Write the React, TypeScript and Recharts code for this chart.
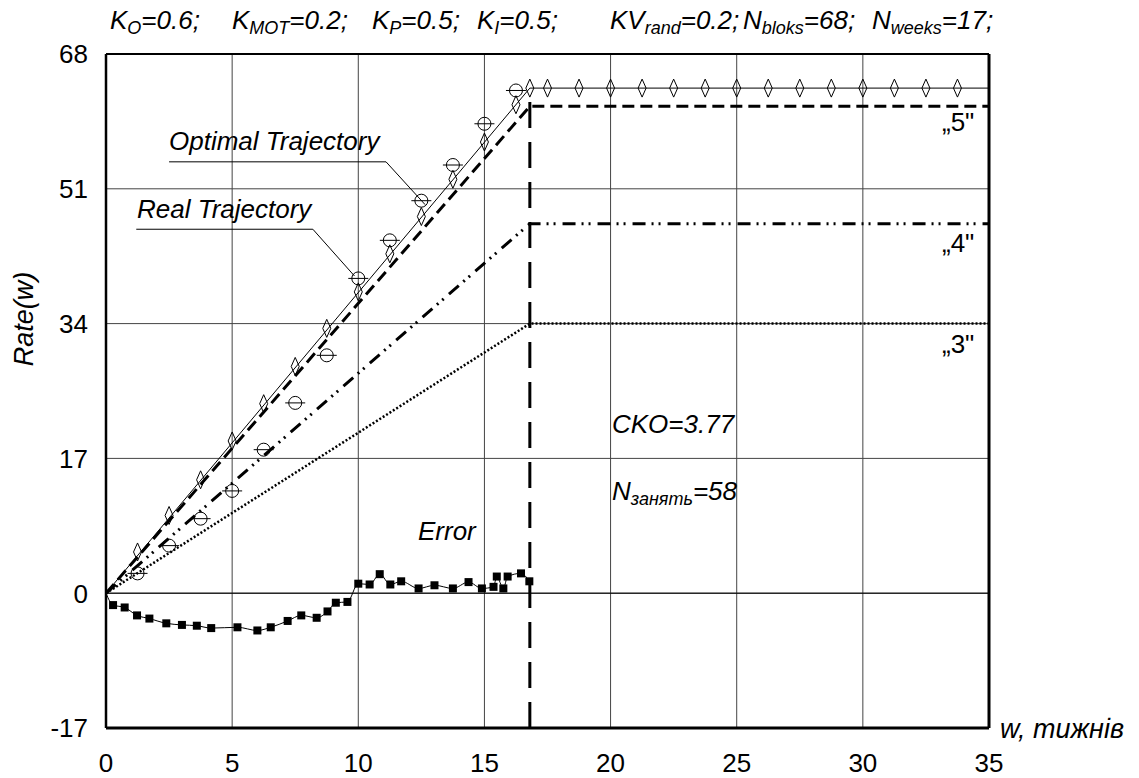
import React from 'react';
import {
  ComposedChart,
  Line,
  Scatter,
  XAxis,
  YAxis,
  CartesianGrid,
  ReferenceLine,
  Customized
} from 'recharts';

// Chart values
const xTicks = [0, 5, 10, 15, 20, 25, 30, 35];
const yTicks = [-17, 0, 17, 34, 51, 68];

const levelX = [0, 16.8, 35];
const optimalY = [0, 63.7, 63.7];
const grade5Y = [0, 61.4, 61.4];
const grade4Y = [0, 46.6, 46.6];
const grade3Y = [0, 34, 34];

// vertical cut at the end of the term, drawn from the bottom up
const cutX = [16.8, 16.8];
const cutY = [-17, 63.7];

const diamondX = [1.25, 2.5, 3.75, 5, 6.25, 7.5, 8.75, 10, 11.25, 12.5, 13.75, 15, 16.25, 16.8,
  17.5, 18.75, 20, 21.25, 22.5, 23.75, 25, 26.25, 27.5, 28.75, 30, 31.25, 32.5, 33.75];
const diamondY = [5.2, 9.8, 14.3, 19.2, 23.9, 28.6, 33.4, 38.0, 42.8, 47.5, 52.2, 56.9, 61.6, 63.7,
  63.7, 63.7, 63.7, 63.7, 63.7, 63.7, 63.7, 63.7, 63.7, 63.7, 63.7, 63.7, 63.7, 63.7];

const realX = [1.25, 2.5, 3.75, 5, 6.25, 7.5, 8.75, 10, 11.25, 12.5, 13.75, 15, 16.25];
const realY = [2.5, 6.0, 9.4, 12.9, 18.1, 24.0, 30.0, 39.7, 44.5, 49.5, 54.0, 59.2, 63.4];

const errorX = [0, 0.28, 0.74, 1.23, 1.72, 2.39, 3.01, 3.6, 4.17, 5.21, 6.0, 6.53, 7.2, 7.74, 8.35,
  8.78, 9.11, 9.57, 10.0, 10.45, 10.85, 11.27, 11.7, 12.39, 13.02, 13.75, 14.37, 14.9, 15.36,
  15.49, 15.75, 15.92, 16.45, 16.78];
const errorY = [0, -1.5, -1.8, -2.8, -3.2, -3.8, -4.0, -4.1, -4.4, -4.3, -4.7, -4.3, -3.5, -2.8, -3.1,
  -2.3, -1.2, -1.1, 1.2, 1.1, 2.4, 1.1, 1.5, 0.6, 1.0, 0.6, 1.4, 0.6, 0.8,
  2.1, 0.6, 2.1, 2.5, 1.5];

const titleParts = [
  { x: 110, main: 'K', sub: 'O', rest: '=0.6;' },
  { x: 232, main: 'K', sub: 'MOT', rest: '=0.2;' },
  { x: 372, main: 'K', sub: 'P', rest: '=0.5;' },
  { x: 477, main: 'K', sub: 'I', rest: '=0.5;' },
  { x: 610, main: 'KV', sub: 'rand', rest: '=0.2;' },
  { x: 743, main: 'N', sub: 'bloks', rest: '=68;' },
  { x: 872, main: 'N', sub: 'weeks', rest: '=17;' }
];

const zip = (xs: number[], ys: number[]) => xs.map((x, i) => ({ x, y: ys[i] }));

const FONT = '"Liberation Sans", Arial, sans-serif';

const Diamond = (props: any) => {
  const { cx, cy } = props;
  return (
    <path
      d={`M${cx},${cy - 9} L${cx + 4},${cy} L${cx},${cy + 9} L${cx - 4},${cy} Z`}
      fill="none"
      stroke="#000"
      strokeWidth={1}
    />
  );
};

const BarCircle = (props: any) => {
  const { cx, cy } = props;
  return (
    <g>
      <circle cx={cx} cy={cy} r={6.5} fill="none" stroke="#000" strokeWidth={1} />
      <line x1={cx - 10} x2={cx + 10} y1={cy} y2={cy} stroke="#000" strokeWidth={1} />
    </g>
  );
};

const SquareDot = (props: any) => {
  const { cx, cy, index } = props;
  if (index === 0) return <g key={`sq-${index}`} />;
  return <rect key={`sq-${index}`} x={cx - 4} y={cy - 4} width={8} height={8} fill="#000" />;
};

const XTick = (props: any) => {
  const { x, y, payload } = props;
  return (
    <text x={x} y={y + 44} textAnchor="middle" fontSize={26} fontFamily={FONT} fill="#000">
      {payload.value}
    </text>
  );
};

const YTick = (props: any) => {
  const { x, y, payload } = props;
  return (
    <text x={x - 18} y={y} dy="0.36em" textAnchor="end" fontSize={26} fontFamily={FONT} fill="#000">
      {payload.value}
    </text>
  );
};

const itText = { fontFamily: FONT, fontStyle: 'italic' as const, fontSize: 26, fill: '#000' };

const Labels = () => (
  <g>
    {titleParts.map((p) => (
      <text key={p.x} x={p.x} y={29} {...itText} fontSize={26}>
        {p.main}
        <tspan fontSize={18} dy={5}>{p.sub}</tspan>
        <tspan dy={-5}>{p.rest}</tspan>
      </text>
    ))}
    <text x={169} y={150} {...itText}>Optimal Trajectory</text>
    <text x={137} y={218} {...itText}>Real Trajectory</text>
    <text x={418} y={540} {...itText}>Error</text>
    <text x={612} y={433} {...itText}>CKO=3.77</text>
    <text x={612} y={500} {...itText}>
      N<tspan fontSize={18} dy={5}>занять</tspan>
      <tspan dy={-5}>=58</tspan>
    </text>
    <text x={942} y={131} fontFamily={FONT} fontSize={26} fill="#000">„5"</text>
    <text x={942} y={252} fontFamily={FONT} fontSize={26} fill="#000">„4"</text>
    <text x={942} y={353} fontFamily={FONT} fontSize={26} fill="#000">„3"</text>
    <text x={1000} y={738} {...itText} fontSize={27}>w, тижнів</text>
    <text x={33} y={319} transform="rotate(-90 33 319)" textAnchor="middle" {...itText} fontSize={27}>Rate(w)</text>
  </g>
);

export default function App() {
  return (
    <div style={{ position: 'absolute', left: 0, top: 0, background: '#fff' }}>
      <ComposedChart
        width={1139}
        height={778}
        margin={{ top: 54, right: 150, bottom: 20, left: 46 }}
      >
        <CartesianGrid stroke="#444" strokeWidth={1} />
        <XAxis
          type="number"
          dataKey="x"
          domain={[0, 35]}
          ticks={xTicks}
          height={30}
          tickLine={false}
          tickSize={0}
          tickMargin={0}
          tick={<XTick />}
          axisLine={{ stroke: '#000', strokeWidth: 3 }}
          allowDataOverflow
        />
        <YAxis
          type="number"
          dataKey="y"
          domain={[-17, 68]}
          ticks={yTicks}
          width={60}
          tickLine={false}
          tickSize={0}
          tickMargin={0}
          tick={<YTick />}
          axisLine={{ stroke: '#000', strokeWidth: 2.5 }}
          allowDataOverflow
        />
        <ReferenceLine x={35} stroke="#000" strokeWidth={3} />
        <ReferenceLine y={68} stroke="#000" strokeWidth={2} />
        <ReferenceLine y={0} stroke="#000" strokeWidth={1} />

        {/* annotation leaders */}
        <ReferenceLine segment={[{ x: 2.5, y: 54.4 }, { x: 11.1, y: 54.4 }]} stroke="#000" strokeWidth={1} />
        <ReferenceLine segment={[{ x: 11.1, y: 54.4 }, { x: 12.65, y: 49.0 }]} stroke="#000" strokeWidth={1} />
        <ReferenceLine segment={[{ x: 1.2, y: 45.9 }, { x: 8.2, y: 45.9 }]} stroke="#000" strokeWidth={1} />
        <ReferenceLine segment={[{ x: 8.2, y: 45.9 }, { x: 9.85, y: 40.0 }]} stroke="#000" strokeWidth={1} />

        <Line data={zip(levelX, grade3Y)} dataKey="y" stroke="#000" strokeWidth={2.5}
          strokeDasharray="2 2" dot={false} isAnimationActive={false} />
        <Line data={zip(levelX, grade4Y)} dataKey="y" stroke="#000" strokeWidth={3}
          strokeDasharray="13 6 2 5 2 7" dot={false} isAnimationActive={false} />
        <Line data={zip(levelX, grade5Y)} dataKey="y" stroke="#000" strokeWidth={3}
          strokeDasharray="12 6" dot={false} isAnimationActive={false} />
        <Line data={zip(levelX, optimalY)} dataKey="y" stroke="#000" strokeWidth={1}
          dot={false} isAnimationActive={false} />
        <Line data={zip(cutX, cutY)} dataKey="y" stroke="#000" strokeWidth={3}
          strokeDasharray="26 14" dot={false} isAnimationActive={false} />
        <Line data={zip(errorX, errorY)} dataKey="y" type="monotone" stroke="#000" strokeWidth={1}
          dot={<SquareDot />} isAnimationActive={false} />
        <Scatter data={zip(diamondX, diamondY)} dataKey="y" shape={<Diamond />} isAnimationActive={false} />
        <Scatter data={zip(realX, realY)} dataKey="y" shape={<BarCircle />} isAnimationActive={false} />
        <Customized component={<Labels />} />
      </ComposedChart>
    </div>
  );
}
